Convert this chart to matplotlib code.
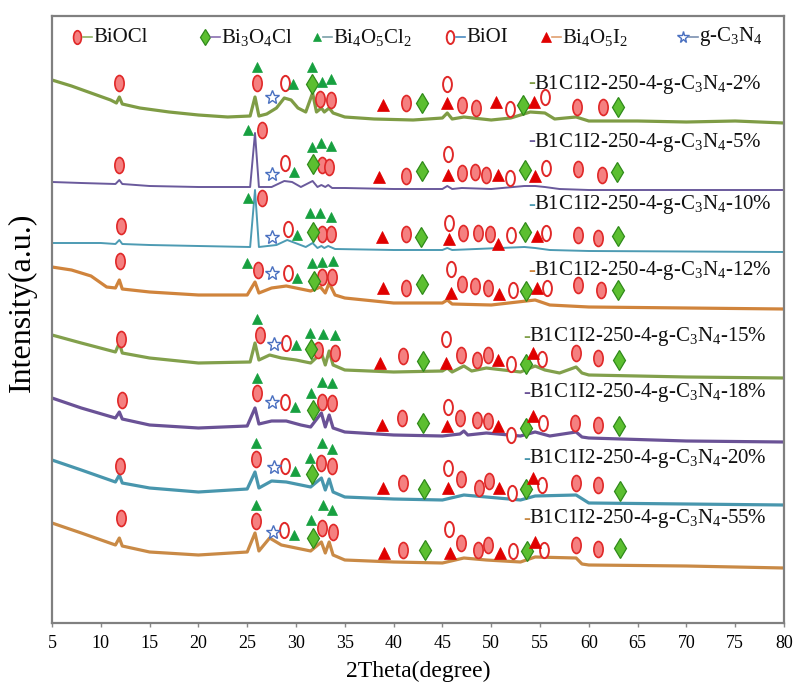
import numpy as np
import matplotlib
matplotlib.use("Agg")
import matplotlib.pyplot as plt
from matplotlib.path import Path
from matplotlib.transforms import Affine2D

plt.rcParams['font.family'] = ['Liberation Serif', 'DejaVu Serif']
plt.rcParams['mathtext.fontset'] = 'custom'
plt.rcParams['mathtext.rm'] = 'Liberation Serif'

# ---- data: (2theta, intensity a.u.) ----
samples = ['2%', '5%', '10%', '12%', '15%', '18%', '20%', '55%']

trace_2 = [(5, 543), (7, 537), (9, 530), (11, 523), (11.6, 520), (11.9, 526), (12.2, 519), (14, 515),
           (17, 511), (20, 508), (23, 506), (25.3, 507), (25.8, 526), (26.2, 507), (27, 509), (28, 515),
           (28.8, 525), (29.5, 523), (30.2, 515), (31, 511), (31.7, 530), (32.1, 511), (32.6, 515),
           (32.9, 511), (33.4, 515), (33.8, 510), (35, 506), (38, 504), (42, 503), (45, 505), (45.5, 510),
           (46, 504), (47.2, 506), (50, 503), (52, 505), (54, 511), (55.5, 510), (56.5, 504), (58.7, 506),
           (60, 502), (65, 502), (70, 501), (75, 502), (80, 500)]
trace_5 = [(5, 441), (8, 440), (11.5, 439), (11.9, 443), (12.2, 439), (15, 437), (20, 436), (25.3, 436),
           (25.8, 490), (26.2, 436), (27.5, 436), (28.8, 442), (29.6, 441), (30.5, 436), (31.7, 442),
           (32.2, 436), (32.6, 438), (33.0, 436), (33.3, 438), (33.7, 435), (35, 435), (40, 434), (45, 434),
           (45.5, 437), (46, 434), (47, 435), (50, 434), (53.4, 437), (54.5, 437), (55.5, 436), (57, 434),
           (60, 433), (80, 433)]
trace_10 = [(5, 380), (10, 380), (11.5, 379), (11.9, 383), (12.2, 379), (15, 378), (20, 377), (25.3, 376),
            (25.8, 433), (26.2, 376), (28, 378), (29.1, 383), (30.2, 379), (31, 376), (31.7, 380),
            (32.2, 375), (32.6, 377), (32.9, 375), (33.3, 377), (34, 374), (40, 373), (45, 373),
            (45.5, 375), (46, 373), (53.4, 376), (54.5, 375), (56, 373), (60, 372), (80, 371)]
trace_12 = [(5, 356), (7, 353), (9, 347), (10.6, 336), (11.5, 335), (11.9, 343), (12.2, 334), (15, 331),
            (20, 328), (25, 328), (25.8, 341), (26.2, 330), (27.5, 335), (29, 337), (30.5, 334),
            (31.5, 332), (32.5, 336), (33.0, 330), (33.4, 340), (34, 328), (35, 325), (40, 320), (45, 320),
            (45.5, 323), (46, 319), (50, 318), (54.5, 323), (56, 318), (60, 316), (80, 314)]
trace_15 = [(5, 288), (8, 280), (11.5, 271), (11.9, 280), (12.2, 270), (15, 265), (20, 260), (25.3, 261),
            (25.8, 280), (26.2, 263), (27.3, 268), (28.5, 265), (30, 263), (31.5, 260), (32.6, 270),
            (33.0, 258), (33.4, 272), (33.8, 258), (35, 253), (40, 251), (45, 252), (45.5, 255), (46, 251),
            (47.2, 257), (48, 252), (49.5, 255), (53, 251), (54.5, 257), (55.5, 253), (57, 250),
            (58.7, 256), (59.3, 250), (60, 248), (70, 246), (80, 245)]
trace_18 = [(5, 225), (8, 215), (11.5, 205), (11.9, 211), (12.2, 204), (15, 198), (20, 195), (25, 197),
            (25.8, 215), (26.2, 199), (27.5, 202), (29, 202), (30.5, 198), (31.5, 196), (32.6, 210),
            (33.0, 196), (33.4, 208), (33.8, 195), (35, 191), (40, 188), (45, 187), (46.8, 189),
            (47.2, 192), (47.6, 188), (49.5, 190), (53, 187), (54.5, 191), (56, 187), (58.7, 191),
            (59.3, 186), (60, 185), (70, 182), (80, 181)]
trace_20 = [(5, 163), (8, 153), (11.5, 141), (11.9, 148), (12.2, 140), (15, 135), (20, 131), (25, 134),
            (25.8, 151), (26.2, 135), (27.5, 142), (29, 141), (30.5, 138), (31.5, 136), (32.6, 145),
            (33.0, 133), (33.4, 144), (33.8, 131), (35, 126), (40, 124), (45, 123), (47.2, 128),
            (49.5, 126), (53, 123), (54.5, 127), (58.7, 128), (60, 120), (70, 119), (80, 118)]
trace_55 = [(5, 100), (8, 90), (11.5, 78), (11.9, 85), (12.2, 77), (15, 71), (20, 68), (25, 71),
            (25.8, 90), (26.2, 72), (27.3, 85), (28.5, 78), (30, 75), (31.5, 72), (32.6, 81), (33.0, 70),
            (33.4, 81), (33.8, 68), (35, 63), (40, 61), (45, 60), (47.2, 65), (49.5, 63), (53, 61),
            (54.5, 66), (58.7, 65), (59.3, 59), (60, 58), (70, 57), (80, 55)]
traces = [trace_2, trace_5, trace_10, trace_12, trace_15, trace_18, trace_20, trace_55]

# phase marks, one list per sample (same order as samples)
biocl_pts = [
    [(11.9, 540), (26.0, 540), (32.5, 524), (33.6, 523), (41.3, 520), (47.0, 518), (48.4, 515), (58.8, 516), (61.5, 516)],
    [(11.9, 458), (26.5, 493), (32.7, 458), (33.4, 456), (41.3, 447), (47.0, 450), (48.3, 451), (49.5, 448), (58.9, 454), (61.4, 448)],
    [(12.1, 397), (26.5, 425), (32.7, 389), (33.6, 389), (41.3, 389), (47.1, 390), (48.6, 390), (49.9, 389), (58.9, 388), (60.9, 385)],
    [(12.0, 362), (26.1, 353), (32.7, 346), (33.7, 346), (41.3, 335), (47.0, 339), (48.3, 337), (49.7, 335), (58.9, 338), (61.2, 333)],
    [(12.1, 284), (26.3, 288), (32.3, 273), (34.0, 270), (41.0, 267), (46.9, 268), (48.5, 263), (49.7, 268), (58.7, 270), (60.9, 265)],
    [(12.2, 223), (26.0, 230), (32.7, 221), (33.7, 220), (40.9, 205), (46.8, 205), (48.5, 203), (49.7, 202), (58.6, 200), (60.9, 198)],
    [(12.0, 157), (25.9, 164), (32.6, 160), (33.7, 157), (41.0, 140), (46.9, 144), (48.8, 135), (49.8, 142), (58.7, 140), (60.9, 138)],
    [(12.1, 105), (25.9, 102), (32.7, 95), (33.8, 91), (41.0, 73), (46.9, 80), (48.6, 73), (49.7, 78), (58.7, 78), (60.9, 74)],
]
bi3o4cl_pts = [
    [(31.6, 539), (42.9, 520), (53.3, 518), (63.0, 516)],
    [(31.7, 459), (42.9, 452), (53.5, 453), (62.9, 451)],
    [(31.7, 391), (42.8, 386), (53.5, 391), (63.0, 387)],
    [(31.8, 342), (42.9, 339), (53.6, 332), (63.0, 333)],
    [(31.5, 274), (43.0, 262), (53.6, 259), (63.1, 263)],
    [(31.7, 213), (43.0, 200), (53.6, 195), (63.1, 197)],
    [(31.6, 149), (43.1, 134), (53.6, 134), (63.2, 132)],
    [(31.7, 85), (43.2, 73), (53.7, 72), (63.2, 75)],
]
bi4o5cl2_pts = [
    [(26.0, 556), (29.7, 539), (31.6, 556), (32.7, 541), (33.6, 544)],
    [(25.1, 493), (29.8, 451), (31.6, 476), (32.6, 480), (33.6, 477)],
    [(25.1, 425), (30.1, 388), (31.4, 410), (32.5, 410), (33.6, 406)],
    [(25.0, 360), (30.1, 345), (31.6, 360), (32.7, 361), (33.8, 362)],
    [(26.0, 304), (30.0, 278), (31.4, 290), (32.8, 289), (34.0, 288)],
    [(26.0, 245), (29.9, 216), (31.5, 230), (32.7, 241), (33.7, 240)],
    [(25.9, 180), (29.9, 152), (31.4, 165), (32.7, 180), (33.7, 174)],
    [(25.9, 118), (29.8, 88), (31.5, 103), (32.8, 118), (33.7, 113)],
]
bioi_pts = [
    [(28.9, 540), (45.5, 539), (51.9, 514), (55.5, 526)],
    [(28.9, 460), (45.6, 469), (51.9, 445), (55.6, 455)],
    [(29.2, 394), (45.7, 400), (52.0, 388), (55.6, 390)],
    [(29.2, 350), (45.9, 354), (52.2, 333), (55.7, 335)],
    [(29.0, 280), (45.4, 284), (52.0, 259), (55.2, 264)],
    [(28.9, 221), (45.6, 216), (52.0, 188), (55.3, 200)],
    [(28.9, 157), (45.6, 155), (52.1, 130), (55.2, 138)],
    [(28.8, 93), (45.7, 94), (52.2, 72), (55.4, 73)],
]
bi4o5i2_pts = [
    [(38.9, 518), (45.5, 520), (50.5, 521), (54.4, 521)],
    [(38.5, 446), (45.6, 448), (50.7, 448), (54.5, 447)],
    [(38.8, 386), (45.7, 384), (50.7, 379), (54.7, 387)],
    [(38.9, 335), (45.9, 330), (50.8, 329), (54.7, 335)],
    [(38.6, 260), (45.4, 260), (50.7, 263), (54.3, 270)],
    [(38.8, 198), (45.5, 197), (50.7, 197), (54.3, 207)],
    [(38.9, 135), (45.6, 135), (50.8, 135), (54.3, 145)],
    [(39.0, 70), (45.8, 70), (50.9, 70), (54.5, 81)],
]
gc3n4_pts = [(27.5, 526), (27.5, 449), (27.5, 386), (27.5, 350), (27.7, 279), (27.5, 221), (27.7, 156), (27.6, 91)]

label_pos = [(53.8, 539), (53.8, 481), (53.8, 418), (53.8, 352), (53.3, 286), (53.3, 230), (53.3, 164), (53.3, 104)]
colors = ['#7f9c45', '#6a5a9c', '#4d9bb3', '#d0843c', '#82a04c', '#6a5296', '#4896ad', '#c98a46']
widths = [2.3, 1.4, 1.4, 2.3, 2.3, 2.3, 2.3, 2.3]

# tall ellipse marker
ell = Path.unit_circle().transformed(Affine2D().scale(0.58, 1.0))

sub = lambda s: r'$\mathregular{_{%s}}$' % s

fig = plt.figure(figsize=(7.98, 6.84), dpi=100)
ax = fig.add_axes([52 / 798, 1 - 623 / 684, 732 / 798, 607 / 684])

for i, tr in enumerate(traces):
    x = [p[0] for p in tr]
    y = [p[1] for p in tr]
    ax.plot(x, y, color=colors[i], lw=widths[i], zorder=2)

def put(pts, **kw):
    if len(pts) == 0:
        return
    ax.plot([p[0] for p in pts], [p[1] for p in pts], ls='none', zorder=4, **kw)

st_biocl = dict(marker=ell, ms=11.5, mfc='#f58080', mec='#e02828', mew=1.2)
st_bioi = dict(marker=ell, ms=11, mfc='white', mec='#e02828', mew=1.4)
st_dia = dict(marker='d', ms=10, mfc='#5cbf30', mec='#2f8a1a', mew=0.9)
st_gtri = dict(marker='^', ms=7.5, mfc='#17a040', mec='#17a040', mew=0.5)
st_rtri = dict(marker='^', ms=8, mfc='#e00000', mec='#e00000', mew=0.5)
st_star = dict(marker='*', ms=10, mfc='white', mec='#4a70c0', mew=1.0)

for i in range(len(samples)):
    put(biocl_pts[i], **st_biocl)
    put(bioi_pts[i], **st_bioi)
    put(bi3o4cl_pts[i], **st_dia)
    put(bi4o5cl2_pts[i], **st_gtri)
    put(bi4o5i2_pts[i], **st_rtri)
    put([gc3n4_pts[i]], **st_star)
    lx, ly = label_pos[i]
    ax.text(lx, ly, '-', color=colors[i], fontsize=15, va='center', ha='left', zorder=5)
    ax.text(lx + 0.55, ly, 'B1C1I2-250-4-g-C' + sub('3') + 'N' + sub('4') + '-' + samples[i],
            color='#111111', fontsize=15, va='center', ha='left', zorder=5)

# legend row drawn by hand (marker, short dash, text)
leg_names = ['BiOCl', 'Bi' + sub('3') + 'O' + sub('4') + 'Cl', 'Bi' + sub('4') + 'O' + sub('5') + 'Cl' + sub('2'),
             'BiOI', 'Bi' + sub('4') + 'O' + sub('5') + 'I' + sub('2'), 'g-C' + sub('3') + 'N' + sub('4')]
leg_styles = [st_biocl, st_dia, st_gtri, st_bioi, st_rtri, st_star]
leg_dash = ['#8db060', '#8a70b0', '#7aa0a8', '#4a8ac0', '#e0a070', '#7a90b0']
leg_x = [77, 205, 317, 450, 546, 683]
ly = 1 - (37 - 16) / 607
for k in range(6):
    xf = (leg_x[k] - 52) / 732
    s = dict(leg_styles[k])
    s['ms'] = s['ms'] * 0.85
    ax.plot([xf], [ly], transform=ax.transAxes, ls='none', clip_on=False, zorder=6, **s)
    ax.plot([xf + 6 / 732, xf + 15 / 732], [ly, ly], transform=ax.transAxes, color=leg_dash[k], lw=1.2, zorder=6)
    ax.text(xf + 16 / 732, ly, leg_names[k], transform=ax.transAxes, fontsize=15, va='center', ha='left', color='#111111')

ax.set_xlim(5, 80)
ax.set_ylim(0, 607)
ax.set_xticks(np.arange(5, 81, 5))
ax.set_yticks([])
ax.tick_params(axis='x', direction='out', length=3, width=1, color='#888888', labelsize=13, pad=6)
for sp in ax.spines.values():
    sp.set_color('#808080')
    sp.set_linewidth(1.6)
ax.set_xlabel('2Theta(degree)', fontsize=17, labelpad=6)
fig.text(22 / 798, 1 - 302 / 684, 'Intensity(a.u.)', rotation=90, fontsize=23, ha='center', va='center')

fig.savefig('out.png', dpi=100)
